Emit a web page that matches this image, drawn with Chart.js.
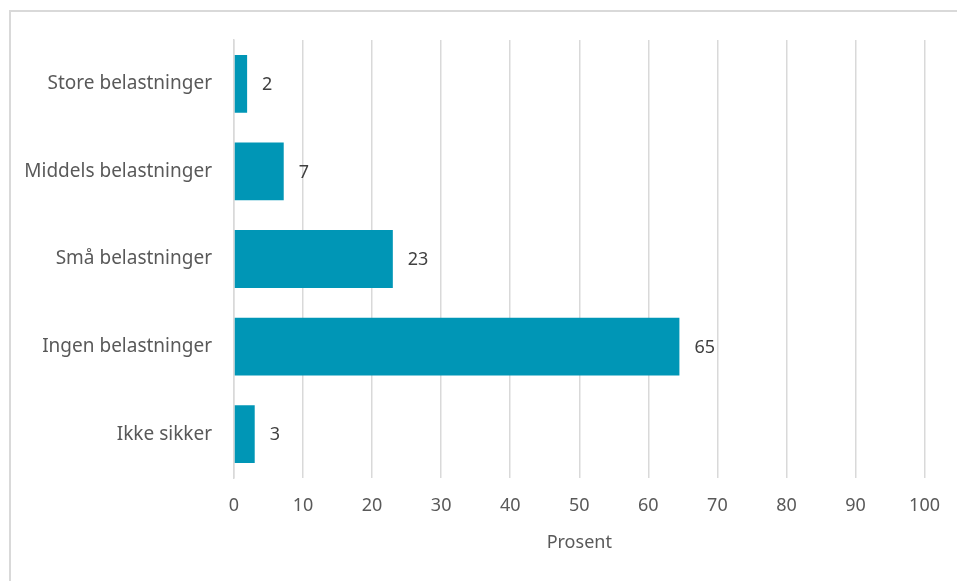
<!DOCTYPE html>
<html>
<head>
<meta charset="utf-8">
<script src="https://cdn.jsdelivr.net/npm/chart.js@4/dist/chart.umd.min.js"></script>
<style>
  html, body { margin: 0; padding: 0; background: #fff; }
  #wrap { position: relative; width: 957px; height: 581px; overflow: hidden; }
  #frame { position: absolute; left: 9px; top: 10px; width: 980px; height: 620px; border: 2px solid #d9d9d9; box-sizing: border-box; }
  #chart { position: absolute; left: 0; top: 0; }
</style>
</head>
<body>
<div id="wrap">
  <div id="frame"></div>
  <canvas id="chart" width="957" height="581"></canvas>
</div>
<script>
var categories = ['Store belastninger', 'Middels belastninger', 'Små belastninger', 'Ingen belastninger', 'Ikke sikker'];
var values = [1.9, 7.2, 23.0, 64.5, 3.0];
var valueLabels = ['2', '7', '23', '65', '3'];
var xTicks = [0, 10, 20, 30, 40, 50, 60, 70, 80, 90, 100];

var fontFamily = '"Source Sans Pro", "Noto Sans", sans-serif';

// draws the value next to each bar
var barLabels = {
    id: 'barLabels',
    afterDatasetsDraw: function (chart) {
        var ctx = chart.ctx;
        var meta = chart.getDatasetMeta(0);
        ctx.save();
        ctx.font = '18px ' + fontFamily;
        ctx.fillStyle = '#404040';
        ctx.textAlign = 'left';
        ctx.textBaseline = 'middle';
        meta.data.forEach(function (bar, i) {
            ctx.fillText(valueLabels[i], bar.x + 15, bar.y + 1);
        });
        ctx.restore();
    }
};

var ctx = document.getElementById('chart').getContext('2d');
var myChart = new Chart(ctx, {
    type: 'bar',
    data: {
        labels: categories,
        datasets: [{
            data: values,
            backgroundColor: '#0096b6',
            borderWidth: 0,
            categoryPercentage: 1,
            barPercentage: 0.66
        }]
    },
    options: {
        indexAxis: 'y',
        responsive: false,
        animation: false,
        events: [],
        layout: { padding: { top: 40, right: 32, left: 0, bottom: 23 } },
        plugins: { legend: { display: false }, tooltip: { enabled: false } },
        scales: {
            x: {
                min: 0,
                max: 100,
                afterBuildTicks: function (scale) {
                    scale.ticks = xTicks.map(function (v) { return { value: v }; });
                },
                afterFit: function (scale) { scale.height = 80; },
                grid: { color: '#d9d9d9', lineWidth: 1.5, drawTicks: false },
                border: { display: false },
                ticks: {
                    padding: 17,
                    color: '#595959',
                    font: { family: fontFamily, size: 18 }
                },
                title: {
                    display: true,
                    text: 'Prosent',
                    color: '#595959',
                    font: { family: fontFamily, size: 18 },
                    padding: { top: 12 }
                }
            },
            y: {
                afterFit: function (scale) { scale.width = 234; },
                grid: { display: false, drawTicks: false },
                border: { display: true, color: '#d9d9d9', width: 1.5 },
                ticks: {
                    padding: 22,
                    color: '#595959',
                    font: { family: fontFamily, size: 19 }
                }
            }
        }
    },
    plugins: [barLabels]
});
</script>
</body>
</html>
